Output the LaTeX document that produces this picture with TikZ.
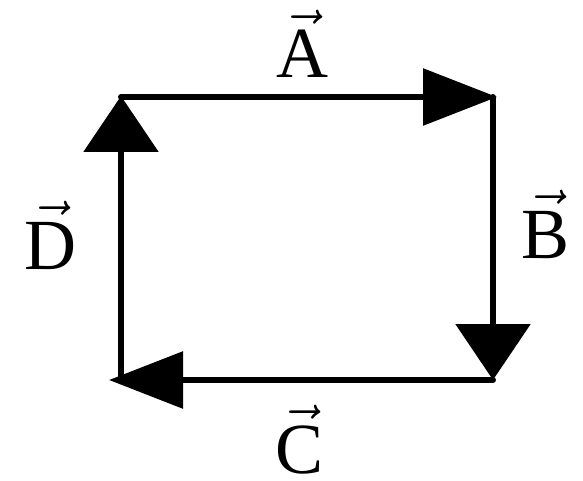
\RequirePackage{fix-cm}
\documentclass[tikz,border=0pt]{standalone}
\usepackage{amsmath}
\usepackage{fontspec}
\setmainfont{Liberation Serif}
\usetikzlibrary{arrows.meta}

\begin{document}
\begin{tikzpicture}[x=1pt,y=-1pt,
        vecline/.style={line width=6pt,line cap=round},
        hhead/.style={-{Triangle[length=74pt,width=56pt]}},
        vhead/.style={-{Triangle[length=56pt,width=74pt]}},
        veclabel/.style={anchor=base,inner sep=0pt,font=\fontsize{72}{80}\selectfont}]
        \useasboundingbox (0,0) rectangle (583,481);

        % corners of the loop
        \coordinate (tl) at (121,97);
        \coordinate (tr) at (493,97);
        \coordinate (br) at (493,380);
        \coordinate (bl) at (121,380);

        % the four vectors
        \draw[vecline,hhead,shorten >=-4pt] (tl) -- (tr);
        \draw[vecline,vhead] (tr) -- (br);
        \draw[vecline,hhead,shorten >=-12pt] (br) -- (bl);
        \draw[vecline,vhead,shorten >=-1pt] (bl) -- (tl);

        % labels
        \node[veclabel] (lblA) at (302,78)  {$\vec{\text{A}}$};
        \node[veclabel] (lblB) at (546,258) {$\vec{\text{B}}$};
        \node[veclabel] (lblC) at (300,473) {$\vec{\text{C}}$};
        \node[veclabel] (lblD) at (50,269)  {$\vec{\text{D}}$};
\end{tikzpicture}
\end{document}
